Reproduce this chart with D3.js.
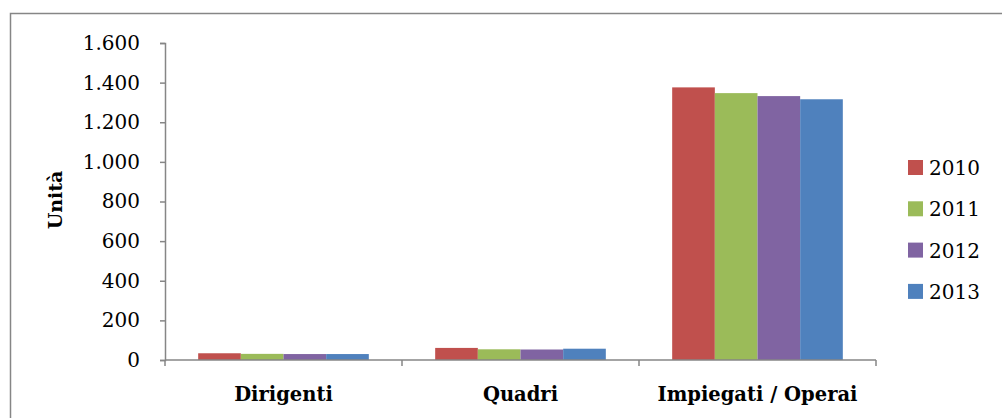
<!DOCTYPE html>
<html>
<head>
<meta charset="utf-8">
<script src="https://cdn.jsdelivr.net/npm/d3@7/dist/d3.min.js"></script>
<style>
  html, body { margin: 0; padding: 0; background: #fff; }
  svg { display: block; }
  text { font-family: "DejaVu Serif", "Liberation Serif", serif; fill: #000; }
</style>
</head>
<body>
<svg id="chart" width="1002" height="418"></svg>
<script>
// Personale per qualifica, 2010–2013
const categories = ["Dirigenti", "Quadri", "Impiegati / Operai"];
const years = ["2010", "2011", "2012", "2013"];
const values2010 = [34, 61, 1376];
const values2011 = [31, 54, 1347];
const values2012 = [30, 53, 1332];
const values2013 = [30, 57, 1316];
const yTicks = [0, 200, 400, 600, 800, 1000, 1200, 1400, 1600];
const colors = ["#C0504D", "#9BBB59", "#8064A2", "#4F81BD"];

const series = [values2010, values2011, values2012, values2013];

const svg = d3.select("#chart");
const axisColor = "#868686";

// Outer frame (right and bottom edges fall outside the canvas)
svg.append("rect")
  .attr("x", 10.5).attr("y", 13.5)
  .attr("width", 1010).attr("height", 420)
  .attr("fill", "none").attr("stroke", axisColor).attr("stroke-width", 1.5);

const plotLeft = 165, plotRight = 876, plotTop = 43, plotBottom = 360;

const x0 = d3.scaleBand().domain(categories).range([plotLeft, plotRight]).paddingInner(0).paddingOuter(0);
const groupPad = 0.14;
const y = d3.scaleLinear().domain([0, 1600]).range([plotBottom, plotTop]);

// Bars
categories.forEach((cat, ci) => {
  const bw = x0.bandwidth();
  const inner = d3.scaleBand().domain(years)
    .range([x0(cat) + bw * groupPad, x0(cat) + bw * (1 - groupPad)]);
  const g = svg.append("g");
  years.forEach((yr, si) => {
    const v = series[si][ci];
    g.append("rect")
      .attr("x", inner(yr))
      .attr("y", y(v))
      .attr("width", inner.bandwidth())
      .attr("height", y(0) - y(v))
      .attr("fill", colors[si]);
  });
});

// Y axis
const yAxis = d3.axisLeft(y)
  .tickValues(yTicks)
  .tickSize(5)
  .tickPadding(20)
  .tickFormat(d => d3.format(",")(d).replace(/,/g, "."));
const gy = svg.append("g").attr("transform", `translate(${plotLeft},0)`).call(yAxis);
gy.select(".domain").attr("stroke", axisColor).attr("stroke-width", 1.5);
gy.selectAll(".tick line").attr("stroke", axisColor).attr("stroke-width", 1.5);
gy.selectAll(".tick text")
  .style("font-family", '"DejaVu Serif", serif')
  .style("font-size", "20px").attr("fill", "#000");

// X axis: ticks at category boundaries
const gx = svg.append("g").attr("transform", `translate(0,${plotBottom})`);
gx.append("line").attr("x1", plotLeft).attr("x2", plotRight).attr("y1", 0).attr("y2", 0)
  .attr("stroke", axisColor).attr("stroke-width", 1.5);
const boundaries = categories.map(c => x0(c)).concat([plotRight]);
gx.selectAll("line.tk").data(boundaries).enter().append("line")
  .attr("class", "tk")
  .attr("x1", d => d).attr("x2", d => d).attr("y1", 0).attr("y2", 6)
  .attr("stroke", axisColor).attr("stroke-width", 1.5);
gx.selectAll("text.cat").data(categories).enter().append("text")
  .attr("class", "cat")
  .attr("x", d => x0(d) + x0.bandwidth() / 2)
  .attr("y", 40.5)
  .attr("text-anchor", "middle")
  .style("font-size", "19.5px")
  .style("font-weight", "bold")
  .text(d => d);

// Y axis title
svg.append("text")
  .attr("transform", "translate(62,200) rotate(-90)")
  .attr("text-anchor", "middle")
  .style("font-size", "19px")
  .style("font-weight", "bold")
  .text("Unità");

// Legend
const legend = svg.append("g");
years.forEach((yr, i) => {
  const ly = 160 + i * 41.3;
  legend.append("rect").attr("x", 908).attr("y", ly).attr("width", 15).attr("height", 15)
    .attr("fill", colors[i]);
  legend.append("text").attr("x", 929).attr("y", ly + 15)
    .style("font-size", "20px").text(yr);
});
</script>
</body>
</html>
